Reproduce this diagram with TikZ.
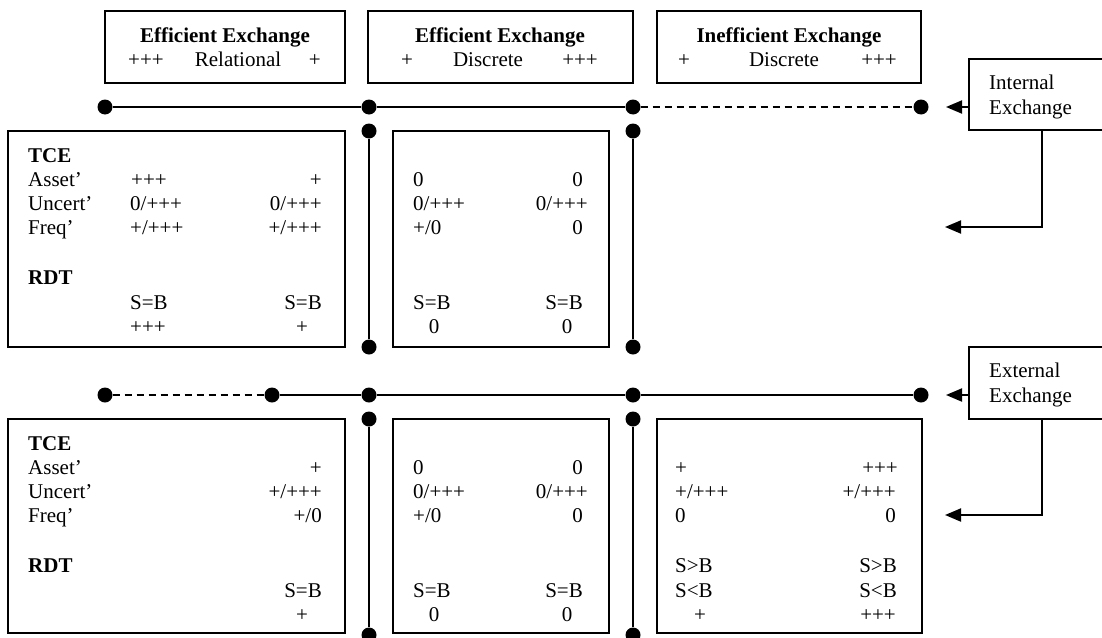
\documentclass[tikz,border=0pt]{standalone}
\usepackage{fontspec}
\setmainfont{Liberation Serif}
\usetikzlibrary{arrows.meta}
\begin{document}
\begin{tikzpicture}[x=1pt,y=-1pt,
  every node/.style={font=\fontsize{21}{25}\selectfont},
  box/.style={draw,line width=2pt,inner sep=0pt,outer sep=0pt,anchor=north west},
  dot/.style={circle,fill,inner sep=0pt,minimum size=15pt},
  link/.style={line width=2pt},
  dlink/.style={line width=2pt,dash pattern=on 7pt off 5pt},
  pointer/.style={line width=2pt,-{Triangle[length=16pt,width=13pt]}},
  L/.style={inner sep=0pt,anchor=base west},
  R/.style={inner sep=0pt,anchor=base east},
  C/.style={inner sep=0pt,anchor=base},
]
\clip (0,0) rectangle (1102,637);

% ---------- header boxes ----------
\node[box,minimum width=240pt,minimum height=72pt] (hdr1) at (105,11) {};
\node[box,minimum width=265pt,minimum height=72pt] (hdr2) at (368,11) {};
\node[box,minimum width=264pt,minimum height=72pt] (hdr3) at (657,11) {};

\node[C] (h1t) at (225,42) {\bfseries Efficient Exchange};
\node[L] (h1a) at (128,66) {+++};
\node[C] (h1b) at (238,66) {Relational};
\node[R] (h1c) at (321,66) {+};

\node[C] (h2t) at (500,42) {\bfseries Efficient Exchange};
\node[L] (h2a) at (401,66) {+};
\node[C] (h2b) at (488,66) {Discrete};
\node[R] (h2c) at (598,66) {+++};

\node[C] (h3t) at (789,42) {\bfseries Inefficient Exchange};
\node[L] (h3a) at (678,66) {+};
\node[C] (h3b) at (784,66) {Discrete};
\node[R] (h3c) at (897,66) {+++};

% ---------- side boxes ----------
\node[box,minimum width=146pt,minimum height=71pt] (intbox) at (969,59) {};
\node[L] (int1) at (989,89) {Internal};
\node[L] (int2) at (989,114) {Exchange};

\node[box,minimum width=146pt,minimum height=72pt] (extbox) at (969,347) {};
\node[L] (ext1) at (989,377) {External};
\node[L] (ext2) at (989,402) {Exchange};

% ---------- upper axis ----------
\node[dot] (ta) at (105,107) {};
\node[dot] (tb) at (369,107) {};
\node[dot] (tc) at (633,107) {};
\node[dot] (td) at (921,107) {};
\draw[link] (ta) -- (tb) -- (tc);
\draw[dlink] (tc) -- (td);
\coordinate (itip) at (946,107);
\draw[pointer] (intbox.west |- itip) -- (itip);
\coordinate (iarr) at (945,227);
\draw[pointer] (intbox.south) |- (iarr);

% ---------- lower axis ----------
\node[dot] (sa) at (105,395) {};
\node[dot] (sb) at (272,395) {};
\node[dot] (sc) at (369,395) {};
\node[dot] (sd) at (633,395) {};
\node[dot] (se) at (921,395) {};
\draw[dlink] (sa) -- (sb);
\draw[link] (sb) -- (sc) -- (sd) -- (se);
\coordinate (etip) at (946,395);
\draw[pointer] (extbox.west |- etip) -- (etip);
\coordinate (earr) at (945,515);
\draw[pointer] (extbox.south) |- (earr);

% ---------- vertical separators ----------
\node[dot] (ua1) at (369,131) {};
\node[dot] (ua2) at (369,347) {};
\node[dot] (ub1) at (633,131) {};
\node[dot] (ub2) at (633,347) {};
\draw[link] (ua1) -- (ua2);
\draw[link] (ub1) -- (ub2);
\node[dot] (la1) at (369,419) {};
\node[dot] (la2) at (369,635) {};
\node[dot] (lb1) at (633,419) {};
\node[dot] (lb2) at (633,635) {};
\draw[link] (la1) -- (la2);
\draw[link] (lb1) -- (lb2);

% ---------- panels ----------
\node[box,minimum width=337pt,minimum height=216pt] (pul) at (8,131) {};
\node[box,minimum width=216pt,minimum height=216pt] (pum) at (393,131) {};
\node[box,minimum width=337pt,minimum height=214pt] (pll) at (8,419) {};
\node[box,minimum width=216pt,minimum height=214pt] (plm) at (393,419) {};
\node[box,minimum width=265pt,minimum height=214pt] (plr) at (657,419) {};

% upper left panel
\node[L] (ul0) at (28,162) {\bfseries TCE};
\node[L] (ul1) at (28,186) {Asset’};
\node[L] (ul1a) at (131,186) {+++};
\node[R] (ul1b) at (322,186) {+};
\node[L] (ul2) at (28,210) {Uncert’};
\node[L] (ul2a) at (130,210) {0/+++};
\node[R] (ul2b) at (322,210) {0/+++};
\node[L] (ul3) at (28,234) {Freq’};
\node[L] (ul3a) at (130,234) {+/+++};
\node[R] (ul3b) at (322,234) {+/+++};
\node[L] (ul4) at (28,284) {\bfseries RDT};
\node[L] (ul5a) at (130,309) {S=B};
\node[R] (ul5b) at (322,309) {S=B};
\node[L] (ul6a) at (130,333) {+++};
\node[C] (ul6b) at (302,333) {+};

% upper middle panel
\node[L] (um1a) at (413,186) {0};
\node[R] (um1b) at (583,186) {0};
\node[L] (um2a) at (413,210) {0/+++};
\node[R] (um2b) at (588,210) {0/+++};
\node[L] (um3a) at (413,234) {+/0};
\node[R] (um3b) at (583,234) {0};
\node[L] (um5a) at (413,309) {S=B};
\node[R] (um5b) at (583,309) {S=B};
\node[C] (um6a) at (434,333) {0};
\node[C] (um6b) at (567,333) {0};

% lower left panel
\node[L] (ll0) at (28,450) {\bfseries TCE};
\node[L] (ll1) at (28,474) {Asset’};
\node[R] (ll1b) at (322,474) {+};
\node[L] (ll2) at (28,498) {Uncert’};
\node[R] (ll2b) at (322,498) {+/+++};
\node[L] (ll3) at (28,522) {Freq’};
\node[R] (ll3b) at (322,522) {+/0};
\node[L] (ll4) at (28,572) {\bfseries RDT};
\node[R] (ll5b) at (322,597) {S=B};
\node[C] (ll6b) at (302,621) {+};

% lower middle panel
\node[L] (lm1a) at (413,474) {0};
\node[R] (lm1b) at (583,474) {0};
\node[L] (lm2a) at (413,498) {0/+++};
\node[R] (lm2b) at (588,498) {0/+++};
\node[L] (lm3a) at (413,522) {+/0};
\node[R] (lm3b) at (583,522) {0};
\node[L] (lm5a) at (413,597) {S=B};
\node[R] (lm5b) at (583,597) {S=B};
\node[C] (lm6a) at (434,621) {0};
\node[C] (lm6b) at (567,621) {0};

% lower right panel
\node[L] (lr1a) at (675,474) {+};
\node[R] (lr1b) at (898,474) {+++};
\node[L] (lr2a) at (675,498) {+/+++};
\node[R] (lr2b) at (896,498) {+/+++};
\node[L] (lr3a) at (675,522) {0};
\node[R] (lr3b) at (896,522) {0};
\node[L] (lr4a) at (675,572) {S>B};
\node[R] (lr4b) at (897,572) {S>B};
\node[L] (lr5a) at (675,597) {S<B};
\node[R] (lr5b) at (897,597) {S<B};
\node[C] (lr6a) at (700,621) {+};
\node[R] (lr6b) at (896,621) {+++};
\end{tikzpicture}
\end{document}
